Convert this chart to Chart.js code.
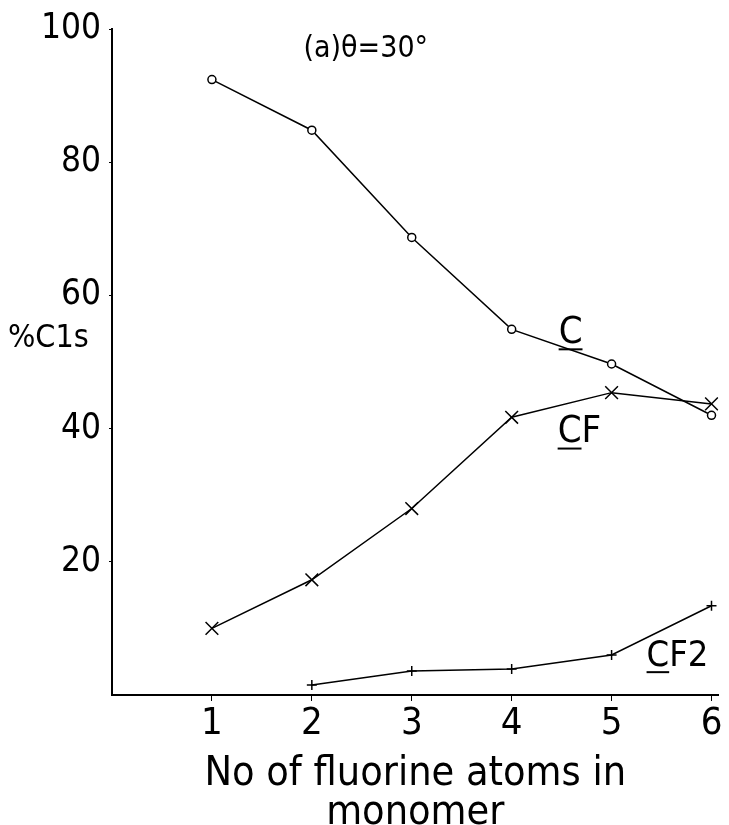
<!DOCTYPE html>
<html>
<head>
<meta charset="utf-8">
<script src="https://cdn.jsdelivr.net/npm/chart.js@4/dist/chart.umd.min.js"></script>
<style>
  html, body { margin: 0; padding: 0; background: #fff; }
  #wrap { width: 729px; height: 825px; }
</style>
</head>
<body>
<div id="wrap"><canvas id="graphe"></canvas></div>
<script>
// données
var fluorine = [1, 2, 3, 4, 5, 6];
var valC   = [92.4, 84.8, 68.7, 54.9, 49.7, 42.0];
var valCF  = [10.0, 17.3, 28.0, 41.7, 45.4, 43.7];
var valCF2 = [null, 1.5, 3.6, 3.9, 6.0, 13.4];
var yTicks = [20, 40, 60, 80, 100];
var xTicks = [1, 2, 3, 4, 5, 6];

var police = "'Liberation Sans Narrow', 'DejaVu Sans Condensed', sans-serif";

function points(ys) {
    var out = [];
    for (var i = 0; i < fluorine.length; i++) {
        if (ys[i] !== null) out.push({ x: fluorine[i], y: ys[i] });
    }
    return out;
}

// texte sur la figure : titre, étiquettes des courbes, nom de l'axe y
var etiquettes = {
    id: 'etiquettes',
    afterDatasetsDraw: function (chart) {
        var c = chart.ctx, sx = chart.scales.x, sy = chart.scales.y;
        c.save();
        c.fillStyle = '#000';
        c.strokeStyle = '#000';
        c.lineWidth = 2;
        c.textBaseline = 'middle';

        function label(txt, x, y, size, souligne) {
            var px = sx.getPixelForValue(x), py = sy.getPixelForValue(y);
            c.font = size + 'px ' + police;
            c.textAlign = 'left';
            c.fillText(txt, px, py);
            if (souligne) {
                var w = c.measureText('C').width;
                c.beginPath();
                c.moveTo(px, py + size * 0.42);
                c.lineTo(px + w, py + size * 0.42);
                c.stroke();
            }
        }
        label('C', 4.47, 54.3, 38, true);
        label('CF', 4.46, 39.4, 38, true);
        label('CF2', 5.35, 5.7, 36, true);

        c.font = '30px ' + police;
        c.textAlign = 'center';
        c.fillText('(a)\u03B8=30\u00B0', sx.getPixelForValue(2.54), sy.getPixelForValue(96.9));

        c.font = '32px ' + police;
        c.textAlign = 'left';
        c.fillText('%C1s', 8, sy.getPixelForValue(53.5));
        c.restore();
    }
};

var ctx = document.getElementById('graphe');

var myChart = new Chart(ctx, {
    type: 'line',
    data: {
        datasets: [{
            label: 'C',
            data: points(valC),
            borderColor: '#000',
            backgroundColor: '#fff',
            borderWidth: 1.5,
            pointStyle: 'circle',
            pointRadius: 4,
            pointBorderWidth: 1.5
        }, {
            label: 'CF',
            data: points(valCF),
            borderColor: '#000',
            backgroundColor: '#000',
            borderWidth: 1.5,
            pointStyle: 'crossRot',
            pointRadius: 9,
            pointBorderWidth: 1.5
        }, {
            label: 'CF2',
            data: points(valCF2),
            borderColor: '#000',
            backgroundColor: '#000',
            borderWidth: 1.5,
            pointStyle: 'cross',
            pointRadius: 5,
            pointBorderWidth: 1.5
        }]
    },
    options: {
        responsive: true,
        maintainAspectRatio: false,
        animation: false,
        layout: { padding: { top: 23, right: 9, left: 0, bottom: 0 } },
        plugins: {
            legend: { display: false },
            tooltip: { enabled: false }
        },
        scales: {
            x: {
                type: 'linear',
                min: 0,
                max: 6.07,
                afterBuildTicks: function (axis) {
                    axis.ticks = xTicks.map(function (v) { return { value: v }; });
                },
                afterFit: function (axis) { axis.height = 130; },
                grid: { drawOnChartArea: false, drawTicks: true, tickLength: 6, color: '#000' },
                border: { display: true, color: '#000', width: 2 },
                ticks: { color: '#000', font: { family: police, size: 38 }, padding: 0, maxRotation: 0 },
                title: {
                    display: true,
                    text: ['No of fluorine atoms in', 'monomer'],
                    color: '#000',
                    font: { family: police, size: 41, lineHeight: 0.95 },
                    padding: { top: 0, bottom: -8 }
                }
            },
            y: {
                min: 0,
                max: 100,
                afterBuildTicks: function (axis) {
                    axis.ticks = yTicks.map(function (v) { return { value: v }; });
                },
                afterFit: function (axis) { axis.width = 112; },
                grid: { drawOnChartArea: false, drawTicks: true, tickLength: 3, color: '#000' },
                border: { display: true, color: '#000', width: 2 },
                ticks: { color: '#000', font: { family: police, size: 35 }, padding: 8 }
            }
        }
    },
    plugins: [etiquettes]
});
</script>
</body>
</html>
